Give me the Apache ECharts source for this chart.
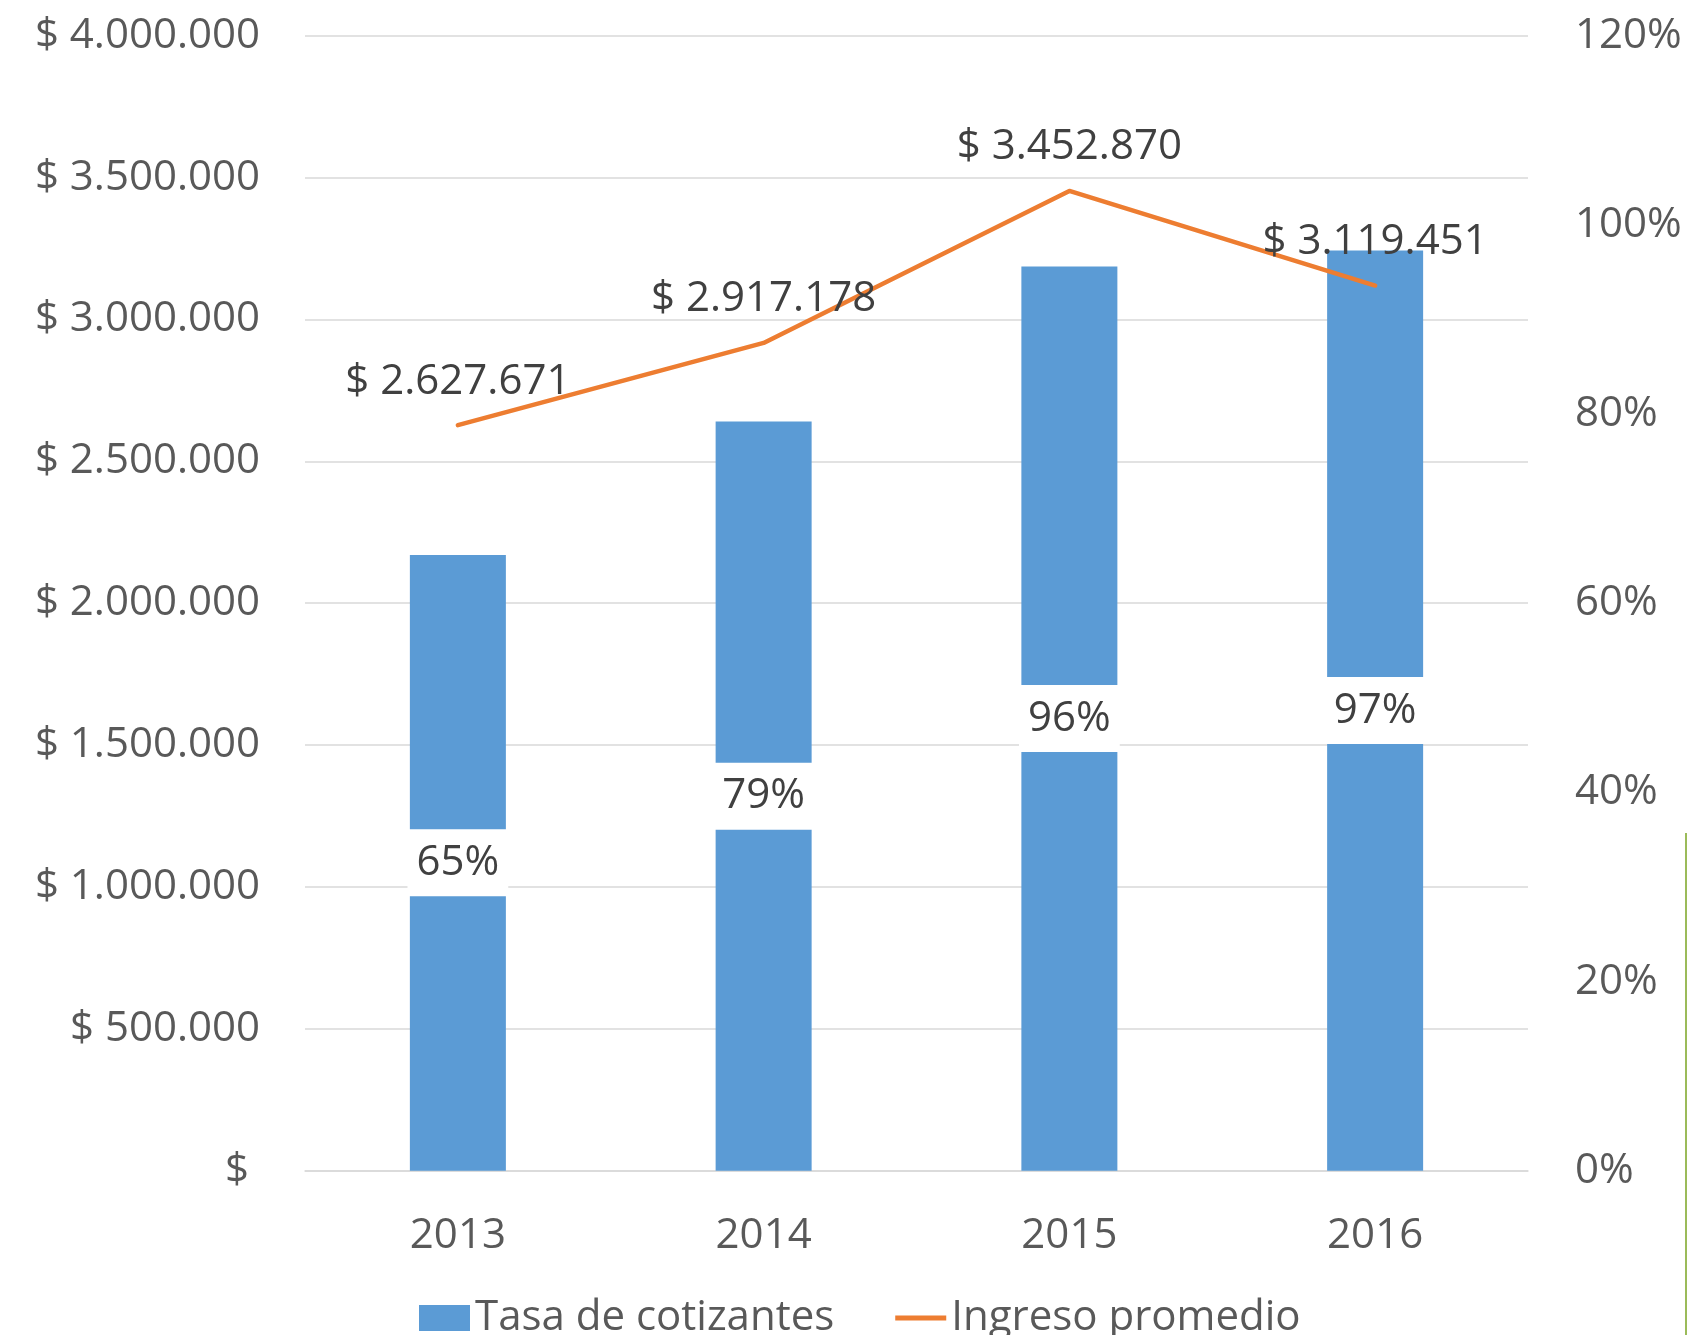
<!DOCTYPE html>
<html>
<head>
<meta charset="utf-8">
<script src="https://cdn.jsdelivr.net/npm/echarts@6/dist/echarts.min.js"></script>
<style>
  html, body { margin: 0; padding: 0; background: #fff; }
  #chart { width: 1688px; height: 1335px; }
</style>
</head>
<body>
<div id="chart"></div>
<script>
var years = ['2013', '2014', '2015', '2016'];
var tasaCotizantes = [65.1, 79.2, 95.6, 97.3];        // % (eje derecho)
var ingresoPromedio = [2627671, 2917178, 3452870, 3119451]; // $ (eje izquierdo)

var font = 'Open Sans';
var gray = '#595959';
var dark = '#404040';

// 2627671 -> "2.627.671"
function miles(v) {
  return String(Math.round(v)).replace(/\B(?=(\d{3})+(?!\d))/g, '.');
}

var myChart = echarts.init(document.getElementById('chart'));
var option = {
  animation: false,
  backgroundColor: '#fff',
  textStyle: { fontFamily: font },
  grid: {
    left: 305,
    right: 160,
    top: 35.7,
    bottom: 164.3,
    outerBoundsMode: 'none'
  },
  legend: {
    left: 414,
    top: 1292,
    itemWidth: 51,
    itemHeight: 26,
    itemGap: 61,
    textStyle: { fontFamily: font, fontSize: 42, color: gray },
    data: [
      { name: 'Tasa de cotizantes', icon: 'rect' },
      { name: 'Ingreso promedio', icon: 'path://M0,0H51V5H0Z' }
    ]
  },
  xAxis: {
    type: 'category',
    data: years,
    axisLine: { show: true, lineStyle: { color: '#D9D9D9', width: 1.5 } },
    axisTick: { show: false },
    axisLabel: { fontFamily: font, fontSize: 42, color: gray, margin: 44 }
  },
  yAxis: [
    {
      type: 'value',
      min: 0,
      max: 4000000,
      interval: 500000,
      axisLine: { show: false },
      axisTick: { show: false },
      splitLine: { lineStyle: { color: '#D9D9D9', width: 1.5 } },
      axisLabel: {
        fontFamily: font, fontSize: 42, color: gray, margin: 45,
        formatter: function (v) { return v === 0 ? '$ ' : '$ ' + miles(v); }
      }
    },
    {
      type: 'value',
      min: 0,
      max: 120,
      interval: 20,
      axisLine: { show: false },
      axisTick: { show: false },
      splitLine: { show: false },
      axisLabel: {
        fontFamily: font, fontSize: 42, color: gray, margin: 47,
        formatter: '{value}%'
      }
    }
  ],
  series: [
    {
      name: 'Tasa de cotizantes',
      type: 'bar',
      yAxisIndex: 1,
      data: tasaCotizantes,
      barWidth: 96,
      itemStyle: { color: '#5B9BD5' },
      label: {
        show: true,
        position: 'inside',
        fontFamily: font,
        fontSize: 42,
        color: dark,
        backgroundColor: '#fff',
        padding: [20, 9, 4, 9],
        lineHeight: 43,
        formatter: function (p) { return Math.round(p.value) + '%'; }
      }
    },
    {
      name: 'Ingreso promedio',
      type: 'line',
      yAxisIndex: 0,
      data: ingresoPromedio,
      symbol: 'circle',
      symbolSize: 1,
      lineStyle: { color: '#ED7D31', width: 4.5, cap: 'round', join: 'round' },
      itemStyle: { color: '#ED7D31' },
      label: {
        show: true,
        position: 'top',
        distance: 22,
        fontFamily: font,
        fontSize: 42,
        color: dark,
        formatter: function (p) { return '$ ' + miles(p.value); }
      }
    }
  ],
  graphic: [
    {
      type: 'line',
      shape: { x1: 1686, y1: 833, x2: 1686, y2: 1335 },
      style: { stroke: '#9BBB59', lineWidth: 2 }
    }
  ]
};
myChart.setOption(option);
</script>
</body>
</html>
